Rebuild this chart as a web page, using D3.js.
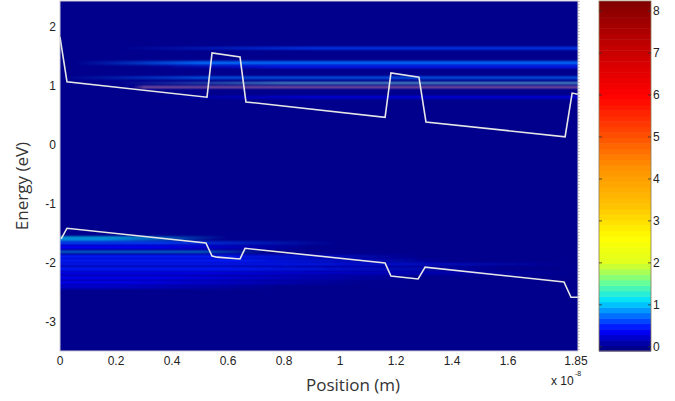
<!DOCTYPE html>
<html>
<head>
<meta charset="utf-8">
<script src="https://cdn.jsdelivr.net/npm/d3@7"></script>
<style>
  body { margin: 0; background: #fff; }
  svg { display: block; }
  .tick-label { font-family: Arial, "Liberation Sans", sans-serif; font-size: 12px; fill: #222; }
  .axis-title { font-family: "Open Sans", sans-serif; font-size: 17px; fill: #333; }
</style>
</head>
<body>
<div id="chart"></div>
<script>
// band edge profiles (position in 1e-8 m, energy in eV)
const cbX = [0, 0.025, 0.525, 0.543, 0.643, 0.664, 1.161, 1.182, 1.282, 1.307, 1.804, 1.829, 1.85];
const cbE = [1.83, 1.07, 0.81, 1.56, 1.49, 0.73, 0.47, 1.22, 1.15, 0.39, 0.14, 0.88, 0.86];
const vbX = [0.004, 0.025, 0.521, 0.543, 0.561, 0.643, 0.661, 1.161, 1.182, 1.279, 1.304, 1.80, 1.825, 1.85];
const vbE = [-1.59, -1.41, -1.66, -1.88, -1.90, -1.93, -1.75, -2.00, -2.22, -2.27, -2.07, -2.32, -2.58, -2.58];

// LDOS streaks: energy, level, thickness (px), fade-in start, full, full end, fade-out end
const streakE     = [1.64, 1.39, 1.33, 1.14, 1.05, 0.98, 0.81,
                     -1.57, -1.61, -1.66, -1.73, -1.81, -1.89, -1.96, -2.02, -2.10, -2.17, -2.25, -2.33, -2.40];
const streakLevel = [0.6, 0.7, 0.55, 0.8, 1.3, 6.0, 0.3,
                     1.2, 1.05, 0.65, 0.4, 0.95, 0.5, 0.5, 0.45, 0.45, 0.4, 0.35, 0.3, 0.25];
const streakThick = [2.2, 3.5, 2.5, 2, 1.4, 1.2, 2,
                     2, 2, 3, 4, 1.3, 3.5, 3.5, 2.5, 3.5, 3, 3.5, 3.5, 4];
const streakXa = [0.2, 0.05, 0.3, 0.0, 0.2, 0.26, 0.3,
                  0, 0, 0, 0, 0, 0, 0, 0, 0, 0, 0, 0, 0];
const streakXb = [0.9, 0.5, 0.8, 0.5, 0.8, 0.3, 0.9,
                  0, 0, 0, 0, 0, 0, 0, 0, 0, 0, 0, 0, 0];
const streakXc = [1.85, 1.85, 1.85, 1.85, 1.85, 1.85, 1.85,
                  0.2, 0.15, 0.35, 0.3, 0.5, 0.5, 0.6, 0.8, 0.6, 0.5, 0.35, 0.25, 0.15];
const streakXd = [1.85, 1.85, 1.85, 1.85, 1.85, 1.85, 1.85,
                  0.6, 0.55, 1.0, 0.9, 0.75, 1.3, 1.4, 1.85, 1.6, 1.85, 1.3, 1.1, 0.8];

// axis ticks
const xTicks = [0, 0.2, 0.4, 0.6, 0.8, 1, 1.2, 1.4, 1.6, 1.85];
const yTicks = [2, 1, 0, -1, -2, -3];
const cTicks = [0, 1, 2, 3, 4, 5, 6, 7, 8];

// colormap stops (jet-like, as in the colorbar)
const cmapValues = [0, 0.4, 0.8, 1.1, 1.5, 2.0, 2.6, 3.4, 4.3, 5.2, 6.0, 7.2, 8.24];
const cmapColors = ["#00008c", "#0000ff", "#0080ff", "#00e0ff", "#60ffa0", "#e0ff20", "#ffff00",
                    "#ffc000", "#ff9000", "#ff4000", "#ff0000", "#c00000", "#800000"];

const W = 675, H = 401;
const svg = d3.select("#chart").append("svg").attr("width", W).attr("height", H);

const xScale = d3.scaleLinear().domain([0, 1.85]).range([60, 578]);
const yScale = d3.scaleLinear().domain([-3.49, 2.44]).range([351, 1]);
const cScale = d3.scaleLinear().domain([-0.1, 8.24]).range([351, 1]);
const cmap = d3.scaleLinear().domain(cmapValues).range(cmapColors).clamp(true);
// 64-level quantised map like MATLAB
const nLev = 64;
const colorOf = v => {
    const t = Math.max(0, Math.min(nLev - 1, Math.floor((v + 0.1) / 8.34 * nLev)));
    return cmap(-0.1 + (t + 0.5) * 8.34 / nLev);
};

const defs = svg.append("defs");
defs.append("clipPath").attr("id", "plotclip")
    .append("rect").attr("x", 60).attr("y", 1).attr("width", 518).attr("height", 350);
defs.append("filter").attr("id", "soft").attr("x", "-5%").attr("y", "-200%").attr("width", "110%").attr("height", "500%")
    .append("feGaussianBlur").attr("stdDeviation", "0.5 0.8");

const plot = svg.append("g").attr("clip-path", "url(#plotclip)");
plot.append("rect").attr("x", 60).attr("y", 1).attr("width", 518).attr("height", 350)
    .attr("fill", colorOf(0));

const streaks = streakE.map((e, i) => ({
    e, level: streakLevel[i], th: streakThick[i],
    xa: streakXa[i], xb: streakXb[i], xc: streakXc[i], xd: streakXd[i]
}));

streaks.forEach((s, i) => {
    let col = colorOf(s.level);
    if (s.level > 3) col = d3.interpolateRgb(col, "#ffffff")(0.65);
    else if (s.level > 1.2) col = d3.interpolateRgb(col, "#ffffff")(0.4);
    const gid = "sg" + i;
    const g = defs.append("linearGradient").attr("id", gid)
        .attr("gradientUnits", "userSpaceOnUse")
        .attr("x1", xScale(0)).attr("x2", xScale(1.85)).attr("y1", 0).attr("y2", 0);
    const off = x => x / 1.85;
    g.append("stop").attr("offset", off(s.xa)).attr("stop-color", col).attr("stop-opacity", s.xa === s.xb ? 1 : 0);
    g.append("stop").attr("offset", off(s.xb)).attr("stop-color", col).attr("stop-opacity", 1);
    g.append("stop").attr("offset", off(s.xc)).attr("stop-color", col).attr("stop-opacity", 1);
    g.append("stop").attr("offset", off(s.xd)).attr("stop-color", col).attr("stop-opacity", s.xc === s.xd ? 1 : 0);
    plot.append("rect")
        .attr("x", xScale(s.xa))
        .attr("width", xScale(s.xd) - xScale(s.xa))
        .attr("y", yScale(s.e) - s.th / 2)
        .attr("height", s.th)
        .attr("fill", `url(#${gid})`)
        .attr("filter", "url(#soft)");
});

const line = d3.line().x(d => xScale(d[0])).y(d => yScale(d[1]));
plot.append("path").datum(cbX.map((x, i) => [x, cbE[i]]))
    .attr("d", line).attr("fill", "none").attr("stroke", "#e6e6e6").attr("stroke-width", 1.6);
plot.append("path").datum(vbX.map((x, i) => [x, vbE[i]]))
    .attr("d", line).attr("fill", "none").attr("stroke", "#e6e6e6").attr("stroke-width", 1.6);

// frame
svg.append("rect").attr("x", 60).attr("y", 1).attr("width", 518).attr("height", 350)
    .attr("fill", "none").attr("stroke", "#c9c9d6").attr("stroke-width", 1);
svg.append("line").attr("x1", 579).attr("x2", 579).attr("y1", 1).attr("y2", 351)
    .attr("stroke", "#a0a0a0").attr("stroke-dasharray", "1,2");

// tick labels
svg.append("g").selectAll("text").data(xTicks).join("text")
    .attr("class", "tick-label")
    .attr("x", d => xScale(d) + (d === 1.85 ? -2 : 0))
    .attr("y", 365)
    .attr("text-anchor", "middle")
    .text(d => d);
svg.append("g").selectAll("text").data(yTicks).join("text")
    .attr("class", "tick-label")
    .attr("x", 56)
    .attr("y", d => yScale(d) + 4)
    .attr("text-anchor", "end")
    .text(d => d);

svg.append("text").attr("class", "tick-label").attr("x", 551).attr("y", 385).text("x 10");
svg.append("text").attr("class", "tick-label").attr("x", 575).attr("y", 376)
    .style("font-size", "7px").text("-8");

// axis titles
svg.append("text").attr("class", "axis-title")
    .attr("transform", "translate(28,186) rotate(-90)")
    .attr("text-anchor", "middle").text("Energy (eV)");
svg.append("text").attr("class", "axis-title")
    .attr("x", 353).attr("y", 391)
    .attr("text-anchor", "middle").text("Position (m)");

// colorbar
const cb = svg.append("g");
const cbVals = d3.range(nLev).map(i => -0.1 + i * 8.34 / nLev);
cb.selectAll("rect").data(cbVals).join("rect")
    .attr("x", 599).attr("width", 52)
    .attr("y", d => cScale(d + 8.34 / nLev))
    .attr("height", d => cScale(d) - cScale(d + 8.34 / nLev) + 0.5)
    .attr("fill", d => colorOf(d + 0.01));
cb.append("rect").attr("x", 599).attr("y", 1).attr("width", 52).attr("height", 350)
    .attr("fill", "none").attr("stroke", "#8a7a5a").attr("stroke-width", 0.8);
cb.selectAll("line.tl").data(cTicks).join("line")
    .attr("x1", 599).attr("x2", 602).attr("y1", d => cScale(d)).attr("y2", d => cScale(d))
    .attr("stroke", "#333").attr("stroke-width", 0.8);
cb.selectAll("line.tr").data(cTicks).join("line")
    .attr("x1", 648).attr("x2", 651).attr("y1", d => cScale(d)).attr("y2", d => cScale(d))
    .attr("stroke", "#333").attr("stroke-width", 0.8);
cb.selectAll("text").data(cTicks).join("text")
    .attr("class", "tick-label")
    .attr("x", 653)
    .attr("y", d => cScale(d) + 4)
    .text(d => d);
</script>
</body>
</html>
